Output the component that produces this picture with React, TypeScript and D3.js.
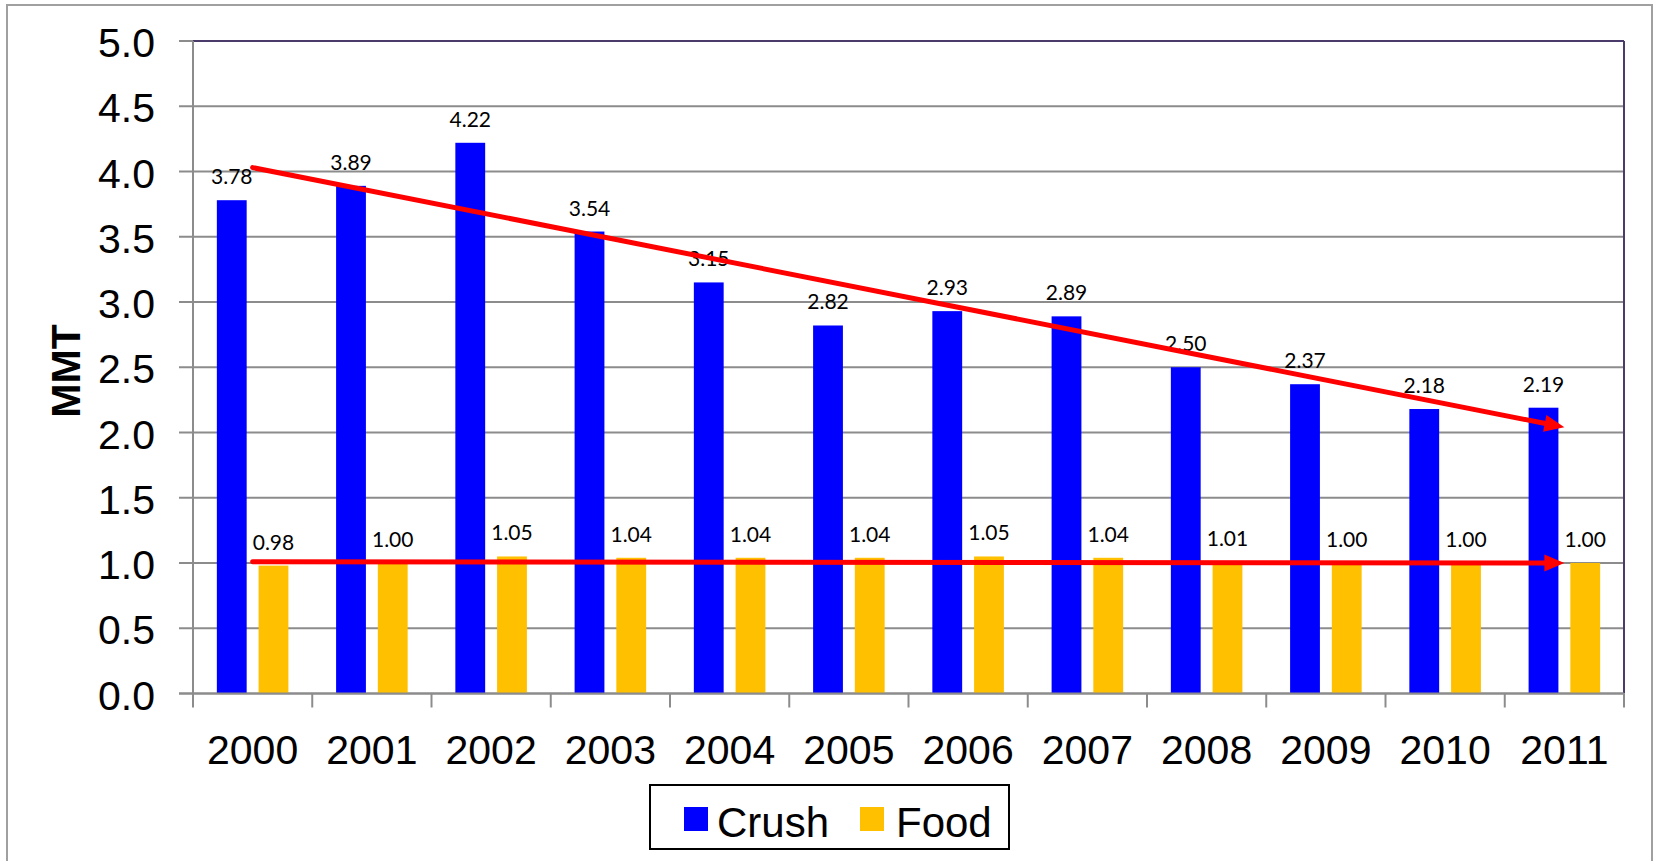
import React from "react";
import * as d3 from "d3";

const years = ["2000","2001","2002","2003","2004","2005","2006","2007","2008","2009","2010","2011"];
const crush = [3.78,3.89,4.22,3.54,3.15,2.82,2.93,2.89,2.50,2.37,2.18,2.19];
const food = [0.98,1.00,1.05,1.04,1.04,1.04,1.05,1.04,1.01,1.00,1.00,1.00];
const seriesNames = ["Crush","Food"];
const seriesColors = ["#0000FF","#FFC000"];
const yTicks = [0,0.5,1,1.5,2,2.5,3,3.5,4,4.5,5];
// trend arrows: [startYear, startValue, endYear, endValue]
const trendStartYears = ["2000","2000"];
const trendStartValues = [4.03, 1.01];
const trendEndYears = ["2011","2011"];
const trendEndValues = [2.04, 1.00];

const W = 1654, H = 861;
const L = 193, R = 1624, T = 41, B = 693.5;
const FONT = "'Liberation Sans', Arial, sans-serif";

export default function App() {
  const x = d3.scaleBand<string>().domain(years).range([L, R]).padding(0);
  const bw = x.bandwidth();
  const x1 = d3.scaleBand<string>().domain(seriesNames).range([0.2 * bw, 0.8 * bw]).paddingInner(0.2857);
  const y = d3.scaleLinear().domain([0, 5]).range([B, T]);
  const values = [crush, food];
  const fmt = d3.format(".2f");

  const arrows = trendStartYears.map((sy, i) => {
    const x0 = (x(sy) as number) + bw / 2;
    const y0 = y(trendStartValues[i]);
    const xt = (x(trendEndYears[i]) as number) + bw / 2;
    const yt = y(trendEndValues[i]);
    const dx = xt - x0, dy = yt - y0;
    const len = Math.hypot(dx, dy);
    const ux = dx / len, uy = dy / len;
    const hl = 20, hw = 8.5;
    const bx = xt - ux * hl, by = yt - uy * hl;
    const head = `M${xt},${yt} L${bx - uy * hw},${by + ux * hw} L${bx + uy * hw},${by - ux * hw} Z`;
    return { x0, y0, bx: xt - ux * (hl - 2), by: yt - uy * (hl - 2), head };
  });

  return (
    <svg width={W} height={H} style={{ position: "absolute", left: 0, top: 0, background: "#fff" }}>
      <rect x={7} y={5} width={1645} height={880} fill="#fff" stroke="#a0a0a0" strokeWidth={2} />
      {yTicks.map((t) => (
        <line key={"g" + t} x1={179} x2={R} y1={y(t)} y2={y(t)} stroke="#8c8c8c" strokeWidth={2} />
      ))}
      <line x1={L} x2={R} y1={T} y2={T} stroke="#4b3b6b" strokeWidth={2} />
      <line x1={R} x2={R} y1={T} y2={B} stroke="#4b3b6b" strokeWidth={2} />
      {years.map((yr, i) => (
        <g key={yr}>
          {seriesNames.map((s, j) => (
            <rect key={s} x={(x(yr) as number) + (x1(s) as number)} y={y(values[j][i])}
              width={x1.bandwidth()} height={B - y(values[j][i])} fill={seriesColors[j]} />
          ))}
        </g>
      ))}
      <line x1={L} x2={L} y1={T} y2={B + 14} stroke="#8c8c8c" strokeWidth={2} />
      <line x1={179} x2={R} y1={B} y2={B} stroke="#8c8c8c" strokeWidth={2} />
      {years.map((yr) => (
        <line key={"t" + yr} x1={(x(yr) as number) + bw} x2={(x(yr) as number) + bw} y1={B} y2={B + 14} stroke="#8c8c8c" strokeWidth={2} />
      ))}
      {yTicks.map((t) => (
        <text key={"yl" + t} x={155} y={y(t) + 16} textAnchor="end" fontFamily={FONT} fontSize={41} fill="#000">{t.toFixed(1)}</text>
      ))}
      {years.map((yr) => (
        <text key={"xl" + yr} x={(x(yr) as number) + bw / 2} y={764} textAnchor="middle" fontFamily={FONT} fontSize={41} fill="#000">{yr}</text>
      ))}
      {years.map((yr, i) => (
        <g key={"dl" + yr}>
          {seriesNames.map((s, j) => (
            <text key={s} x={(x(yr) as number) + (x1(s) as number) + x1.bandwidth() / 2} y={y(values[j][i]) - 16}
              textAnchor="middle" fontFamily="Lato, 'Open Sans', sans-serif" fontSize={21} fill="#000">{fmt(values[j][i])}</text>
          ))}
        </g>
      ))}
      {arrows.map((a, i) => (
        <g key={"a" + i}>
          <line x1={a.x0} y1={a.y0} x2={a.bx} y2={a.by} stroke="#FF0000" strokeWidth={5} strokeLinecap="round" />
          <path d={a.head} fill="#FF0000" />
        </g>
      ))}
      <text transform="translate(80,371) rotate(-90)" textAnchor="middle" fontFamily={FONT} fontWeight="bold" fontSize={41} fill="#000">MMT</text>
      <rect x={650} y={785} width={359} height={64} fill="#fff" stroke="#000" strokeWidth={2} />
      <rect x={684} y={807} width={24} height={24} fill={seriesColors[0]} />
      <text x={717} y={837} fontFamily={FONT} fontSize={42} fill="#000">{seriesNames[0]}</text>
      <rect x={860} y={807} width={24} height={24} fill={seriesColors[1]} />
      <text x={896} y={837} fontFamily={FONT} fontSize={42} fill="#000">{seriesNames[1]}</text>
    </svg>
  );
}
